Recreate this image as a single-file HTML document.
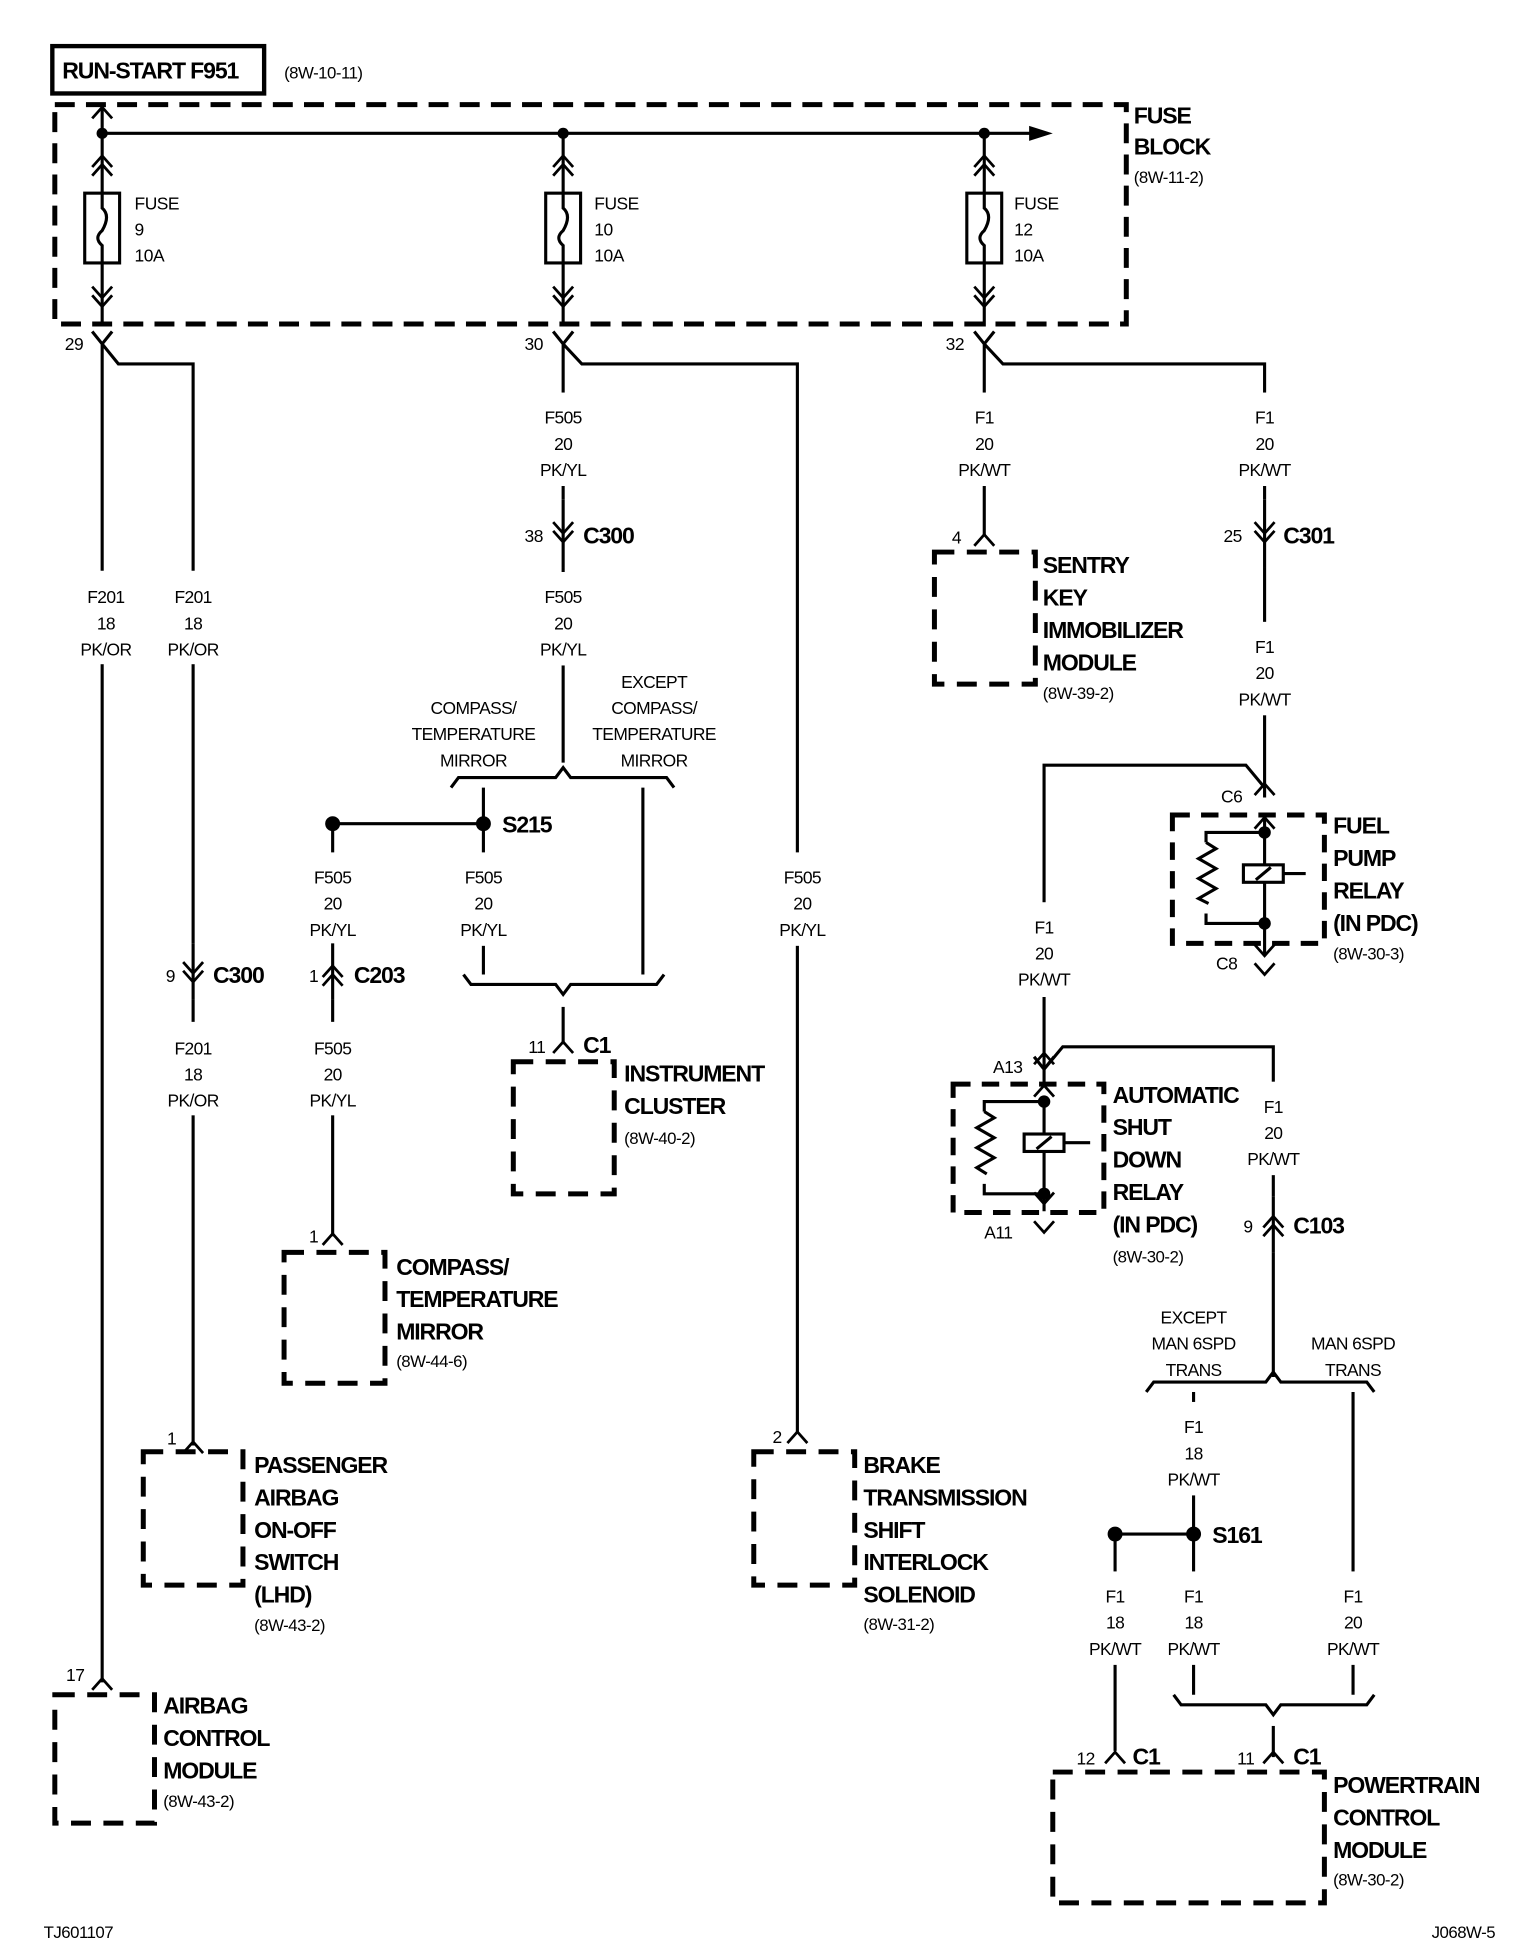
<!DOCTYPE html>
<html><head><meta charset="utf-8"><style>
html,body{margin:0;padding:0;background:#fff;}
svg{display:block;}
text{font-family:"Liberation Sans Narrow","Liberation Sans",sans-serif;fill:#000;}
.l{font-size:14px;text-anchor:middle;letter-spacing:-0.5px;}
.b{font-size:18.5px;font-weight:bold;letter-spacing:-0.9px;}
.r{font-size:13.5px;letter-spacing:-0.4px;}
.s{font-size:14px;letter-spacing:-0.4px;}
</style></head><body>
<svg width="1520" height="1954" viewBox="0 0 1220 1568" preserveAspectRatio="none" xmlns="http://www.w3.org/2000/svg">
<defs>
<path id="dup" d="M-8,6 L0,-3 L8,6 M-8,13 L0,4 L8,13" fill="none" stroke="#000" stroke-width="2.2"/>
<path id="ddn" d="M-8,-6 L0,3 L8,-6 M-8,-13 L0,-4 L8,-13" fill="none" stroke="#000" stroke-width="2.2"/>
<path id="cup" d="M-8,5 L0,-4 L8,5" fill="none" stroke="#000" stroke-width="2.2"/>
<path id="cdn" d="M-8,-5 L0,4 L8,-5" fill="none" stroke="#000" stroke-width="2.2"/>
</defs>
<rect width="1220" height="1568" fill="#fff"/>
<g fill="none" stroke="#000" stroke-width="2.5">
<rect x="42" y="37" width="170" height="38" stroke-width="3.5"/>
<rect x="44" y="84" width="860" height="176" stroke-width="4" stroke-dasharray="16 9"/>
<line x1="82" y1="107" x2="832" y2="107"/>
<line x1="82" y1="86" x2="82" y2="262"/><line x1="452" y1="107" x2="452" y2="262"/><line x1="790" y1="107" x2="790" y2="262"/>
<rect x="68" y="155" width="28" height="56" fill="#fff"/><rect x="438" y="155" width="28" height="56" fill="#fff"/><rect x="776" y="155" width="28" height="56" fill="#fff"/>
<path d="M82,155 v12 q7,6 0,18 q-7,6 0,12 v14"/><path d="M452,155 v12 q7,6 0,18 q-7,6 0,12 v14"/><path d="M790,155 v12 q7,6 0,18 q-7,6 0,12 v14"/>
<path d="M74,266 L82,276 L90,266 M82,276 L82,1350 M82,276 L95,292 L155,292 L155,1160"/>
<path d="M444,266 L452,276 L460,266 M452,276 L452,612 M452,276 L467,292 L640,292 L640,1150"/>
<path d="M782,266 L790,276 L798,266 M790,276 L790,430 M790,276 L805,292 L1015,292 L1015,640"/>
<path d="M362,632 L368,624 L446,624 L452,616 L458,624 L535,624 L541,632"/>
<line x1="388" y1="632" x2="388" y2="782"/><line x1="516" y1="632" x2="516" y2="782"/>
<line x1="267" y1="661" x2="388" y2="661"/>
<line x1="267" y1="661" x2="267" y2="992"/>
<path d="M372,782 L378,790 L446,790 L452,798 L458,790 L527,790 L533,782"/>
<line x1="452" y1="808" x2="452" y2="838"/>
<path d="M838,740 L838,614 L1000,614 L1015,632"/>
<path d="M1015,655 L1015,767"/>
<path d="M1015,668 L968,668 L968,676 M968,733 L968,741 L1015,741"/>
<path d="M968,676 l8,5 l-14,8 l14,8 l-14,8 l14,8 l-14,8 l8,4"/>
<rect x="998" y="694" width="32" height="14" fill="#fff"/><line x1="1008" y1="706" x2="1020" y2="696"/>
<line x1="1030" y1="701" x2="1048" y2="701"/>
<rect x="941" y="654" width="122" height="103" stroke-width="4" stroke-dasharray="14 9"/>
<path d="M838,800 L838,870"/>
<path d="M830,848 L838,858 L846,848 M838,858 L853,840 L1022,840 L1022,1105"/>
<path d="M838,880 L838,972"/>
<path d="M838,884 L790,884 L790,892 M790,950 L790,958 L838,958"/>
<path d="M790,892 l8,5 l-14,8 l14,8 l-14,8 l14,8 l-14,8 l8,5"/>
<rect x="822" y="910" width="32" height="14" fill="#fff"/><line x1="832" y1="922" x2="844" y2="912"/>
<line x1="854" y1="917" x2="875" y2="917"/>
<rect x="765" y="870" width="121" height="103" stroke-width="4" stroke-dasharray="14 9"/>
<path d="M920,1117 L926,1109 L1016,1109 L1022,1101 L1028,1109 L1097,1109 L1103,1117"/>
<line x1="958" y1="1117" x2="958" y2="1360"/><line x1="1086" y1="1117" x2="1086" y2="1360"/>
<line x1="895" y1="1231" x2="958" y2="1231"/><line x1="895" y1="1231" x2="895" y2="1405"/>
<path d="M942,1360 L948,1368 L1016,1368 L1022,1376 L1028,1368 L1097,1368 L1103,1360"/>
<line x1="1022" y1="1385" x2="1022" y2="1410"/>
<g stroke-width="4" stroke-dasharray="16 10">
<rect x="115" y="1165" width="80" height="107"/>
<rect x="44" y="1360" width="80" height="103"/>
<rect x="228" y="1005" width="81" height="105"/>
<rect x="412" y="852" width="81" height="106"/>
<rect x="605" y="1165" width="81" height="107"/>
<rect x="750" y="443" width="81" height="106"/>
<rect x="845" y="1422" width="218" height="105"/>
</g>
</g>
<path d="M826,101 L845,107 L826,113 Z" fill="#000"/>
<g fill="#000"><circle cx="82" cy="107" r="4.5"/><circle cx="452" cy="107" r="4.5"/><circle cx="790" cy="107" r="4.5"/>
<circle cx="267" cy="661" r="6"/><circle cx="388" cy="661" r="6"/><circle cx="895" cy="1231" r="6"/><circle cx="958" cy="1231" r="6"/>
<circle cx="1015" cy="668" r="5"/><circle cx="1015" cy="741" r="5"/><circle cx="838" cy="884" r="5"/><circle cx="838" cy="958" r="5"/></g>
<g fill="#fff">
<rect x="60" y="458" width="190" height="75"/>
<rect x="420" y="315" width="60" height="75"/><rect x="420" y="459" width="60" height="75"/>
<rect x="760" y="315" width="60" height="75"/><rect x="985" y="315" width="60" height="75"/><rect x="985" y="499" width="60" height="75"/>
<rect x="235" y="684" width="60" height="75"/><rect x="356" y="684" width="60" height="75"/><rect x="608" y="684" width="60" height="75"/>
<rect x="130" y="820" width="60" height="75"/><rect x="235" y="820" width="60" height="75"/>
<rect x="806" y="724" width="60" height="75"/><rect x="990" y="868" width="60" height="75"/>
<rect x="925" y="1125" width="60" height="75"/><rect x="862" y="1261" width="250" height="75"/>
<rect x="440" y="401" width="24" height="54"/><rect x="1003" y="401" width="24" height="54"/>
<rect x="143" y="757" width="24" height="45"/><rect x="255" y="757" width="24" height="45"/><rect x="1010" y="960" width="24" height="45"/>
</g>
<use href="#dup" x="82" y="128"/><use href="#ddn" x="82" y="243"/>
<use href="#dup" x="452" y="128"/><use href="#ddn" x="452" y="243"/>
<use href="#dup" x="790" y="128"/><use href="#ddn" x="790" y="243"/>
<use href="#cup" x="82" y="90"/>
<g stroke="#000" stroke-width="2.5"><line x1="452" y1="401" x2="452" y2="455"/><line x1="1015" y1="401" x2="1015" y2="455"/><line x1="155" y1="757" x2="155" y2="802"/><line x1="267" y1="757" x2="267" y2="802"/><line x1="1022" y1="960" x2="1022" y2="1005"/></g>
<use href="#ddn" x="452" y="432"/><use href="#ddn" x="1015" y="432"/><use href="#ddn" x="155" y="785"/>
<use href="#dup" x="267" y="778"/><use href="#dup" x="1022" y="979"/>
<use href="#cup" x="155" y="1161"/><use href="#cup" x="82" y="1351"/><use href="#cup" x="267" y="994"/><use href="#cup" x="452" y="840"/>
<use href="#cup" x="640" y="1153"/><use href="#cup" x="790" y="433"/><use href="#cup" x="895" y="1410"/><use href="#cup" x="1022" y="1410"/>
<use href="#cup" x="1015" y="660"/><use href="#cdn" x="1015" y="763"/><use href="#cdn" x="1015" y="778"/>
<use href="#cup" x="838" y="875"/><use href="#cdn" x="838" y="962"/><use href="#cdn" x="838" y="985"/>
<use href="#cup" x="1015" y="633"/><use href="#cup" x="838" y="849"/>
<text x="50" y="63" class="b">RUN-START F951</text>
<text x="228" y="63" class="r">(8W-10-11)</text>
<text x="910" y="99" class="b">FUSE</text><text x="910" y="124" class="b">BLOCK</text><text x="910" y="147" class="r">(8W-11-2)</text>
<g class="s"><text x="108" y="168">FUSE</text><text x="108" y="189">9</text><text x="108" y="210">10A</text>
<text x="477" y="168">FUSE</text><text x="477" y="189">10</text><text x="477" y="210">10A</text>
<text x="814" y="168">FUSE</text><text x="814" y="189">12</text><text x="814" y="210">10A</text>
<text x="52" y="281">29</text><text x="421" y="281">30</text><text x="759" y="281">32</text>
<text x="421" y="435">38</text><text x="982" y="435">25</text><text x="133" y="788">9</text><text x="248" y="788">1</text><text x="998" y="989">9</text>
<text x="764" y="436">4</text><text x="248" y="997">1</text><text x="424" y="845">11</text><text x="134" y="1159">1</text><text x="620" y="1158">2</text><text x="53" y="1349">17</text>
<text x="864" y="1416">12</text><text x="993" y="1416">11</text>
<text x="980" y="644">C6</text><text x="976" y="778">C8</text><text x="797" y="861">A13</text><text x="790" y="994">A11</text></g>
<g class="l">
<text x="85" y="484">F201</text><text x="85" y="505">18</text><text x="85" y="526">PK/OR</text>
<text x="155" y="484">F201</text><text x="155" y="505">18</text><text x="155" y="526">PK/OR</text>
<text x="452" y="340">F505</text><text x="452" y="361">20</text><text x="452" y="382">PK/YL</text>
<text x="452" y="484">F505</text><text x="452" y="505">20</text><text x="452" y="526">PK/YL</text>
<text x="790" y="340">F1</text><text x="790" y="361">20</text><text x="790" y="382">PK/WT</text>
<text x="1015" y="340">F1</text><text x="1015" y="361">20</text><text x="1015" y="382">PK/WT</text>
<text x="1015" y="524">F1</text><text x="1015" y="545">20</text><text x="1015" y="566">PK/WT</text>
<text x="380" y="573">COMPASS/</text><text x="380" y="594">TEMPERATURE</text><text x="380" y="615">MIRROR</text>
<text x="525" y="552">EXCEPT</text><text x="525" y="573">COMPASS/</text><text x="525" y="594">TEMPERATURE</text><text x="525" y="615">MIRROR</text>
<text x="267" y="709">F505</text><text x="267" y="730">20</text><text x="267" y="751">PK/YL</text>
<text x="388" y="709">F505</text><text x="388" y="730">20</text><text x="388" y="751">PK/YL</text>
<text x="644" y="709">F505</text><text x="644" y="730">20</text><text x="644" y="751">PK/YL</text>
<text x="155" y="846">F201</text><text x="155" y="867">18</text><text x="155" y="888">PK/OR</text>
<text x="267" y="846">F505</text><text x="267" y="867">20</text><text x="267" y="888">PK/YL</text>
<text x="838" y="749">F1</text><text x="838" y="770">20</text><text x="838" y="791">PK/WT</text>
<text x="1022" y="893">F1</text><text x="1022" y="914">20</text><text x="1022" y="935">PK/WT</text>
<text x="958" y="1062">EXCEPT</text><text x="958" y="1083">MAN 6SPD</text><text x="958" y="1104">TRANS</text>
<text x="1086" y="1083">MAN 6SPD</text><text x="1086" y="1104">TRANS</text>
<text x="958" y="1150">F1</text><text x="958" y="1171">18</text><text x="958" y="1192">PK/WT</text>
<text x="895" y="1286">F1</text><text x="895" y="1307">18</text><text x="895" y="1328">PK/WT</text>
<text x="958" y="1286">F1</text><text x="958" y="1307">18</text><text x="958" y="1328">PK/WT</text>
<text x="1086" y="1286">F1</text><text x="1086" y="1307">20</text><text x="1086" y="1328">PK/WT</text>
</g>
<g class="b">
<text x="468" y="436">C300</text><text x="1030" y="436">C301</text><text x="171" y="789">C300</text><text x="284" y="789">C203</text><text x="1038" y="990">C103</text>
<text x="403" y="668">S215</text><text x="973" y="1238">S161</text><text x="468" y="845">C1</text><text x="909" y="1416">C1</text><text x="1038" y="1416">C1</text>
<text x="837" y="460">SENTRY</text><text x="837" y="486">KEY</text><text x="837" y="512">IMMOBILIZER</text><text x="837" y="538">MODULE</text>
<text x="1070" y="669">FUEL</text><text x="1070" y="695">PUMP</text><text x="1070" y="721">RELAY</text><text x="1070" y="747">(IN PDC)</text>
<text x="501" y="868">INSTRUMENT</text><text x="501" y="894">CLUSTER</text>
<text x="893" y="885">AUTOMATIC</text><text x="893" y="911">SHUT</text><text x="893" y="937">DOWN</text><text x="893" y="963">RELAY</text><text x="893" y="989">(IN PDC)</text>
<text x="318" y="1023">COMPASS/</text><text x="318" y="1049">TEMPERATURE</text><text x="318" y="1075">MIRROR</text>
<text x="204" y="1182">PASSENGER</text><text x="204" y="1208">AIRBAG</text><text x="204" y="1234">ON-OFF</text><text x="204" y="1260">SWITCH</text><text x="204" y="1286">(LHD)</text>
<text x="693" y="1182">BRAKE</text><text x="693" y="1208">TRANSMISSION</text><text x="693" y="1234">SHIFT</text><text x="693" y="1260">INTERLOCK</text><text x="693" y="1286">SOLENOID</text>
<text x="131" y="1375">AIRBAG</text><text x="131" y="1401">CONTROL</text><text x="131" y="1427">MODULE</text>
<text x="1070" y="1439">POWERTRAIN</text><text x="1070" y="1465">CONTROL</text><text x="1070" y="1491">MODULE</text>
</g>
<g class="r">
<text x="837" y="561">(8W-39-2)</text><text x="1070" y="770">(8W-30-3)</text><text x="501" y="918">(8W-40-2)</text><text x="893" y="1013">(8W-30-2)</text>
<text x="318" y="1097">(8W-44-6)</text><text x="204" y="1309">(8W-43-2)</text><text x="693" y="1308">(8W-31-2)</text><text x="131" y="1450">(8W-43-2)</text><text x="1070" y="1513">(8W-30-2)</text>
<text x="35" y="1555">TJ601107</text><text x="1200" y="1555" text-anchor="end">J068W-5</text>
</g>
</svg>
</body></html>
